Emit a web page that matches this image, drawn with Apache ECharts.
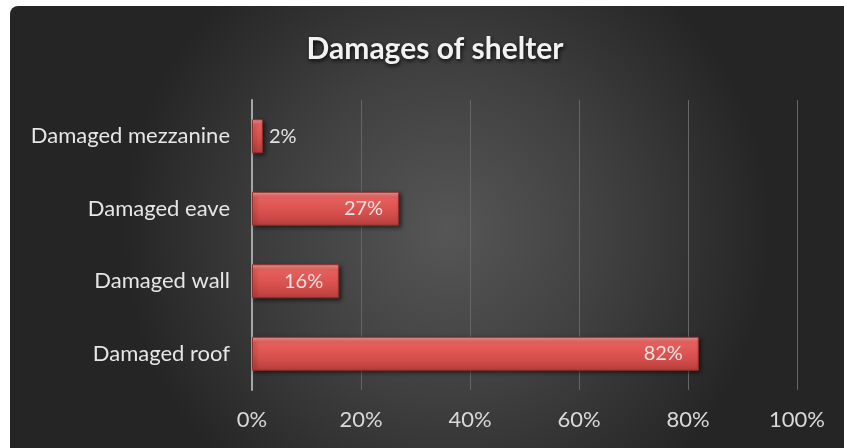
<!DOCTYPE html>
<html>
<head>
<meta charset="utf-8">
<style>
  html, body { margin: 0; padding: 0; background: #ffffff; }
  #chart { width: 844px; height: 448px; }
</style>
<script src="https://cdn.jsdelivr.net/npm/echarts@6/dist/echarts.min.js"></script>
</head>
<body>
<div id="chart"></div>
<script>
// Shelter damage categories, listed bottom to top
const categories = ['Damaged roof', 'Damaged wall', 'Damaged eave', 'Damaged mezzanine'];
// Share of shelters with each damage, in percent
const shares = [82, 16, 27, 2];
const xTicks = [0, 20, 40, 60, 80, 100];

const chart = echarts.init(document.getElementById('chart'), null, { renderer: 'canvas' });

// Bevelled red fill: bright top edge, darker base
const barFill = new echarts.graphic.LinearGradient(0, 0, 0, 1, [
  { offset: 0, color: '#f5a3a1' },
  { offset: 0.16, color: '#e8615e' },
  { offset: 0.6, color: '#d8504d' },
  { offset: 1, color: '#b83f3d' }
]);

const option = {
  backgroundColor: '#ffffff',
  graphic: [{
    type: 'rect',
    z: -10,
    silent: true,
    shape: { x: 10, y: 6, width: 840, height: 450, r: [8, 0, 0, 0] },
    style: {
      fill: new echarts.graphic.RadialGradient(0.52, 0.5, 0.72, [
        { offset: 0, color: '#565656' },
        { offset: 0.5, color: '#404040' },
        { offset: 1, color: '#252525' }
      ])
    }
  }],
  title: {
    text: 'Damages of shelter',
    left: 430,
    textAlign: 'center',
    top: 29,
    textStyle: {
      fontFamily: 'Lato',
      fontSize: 30,
      fontWeight: 'bold',
      color: '#f2f2f2',
      textShadowColor: 'rgba(0,0,0,0.85)',
      textShadowBlur: 4,
      textShadowOffsetX: 1,
      textShadowOffsetY: 2
    }
  },
  grid: { left: 252, right: 47, top: 100, bottom: 58, containLabel: false },
  xAxis: {
    type: 'value',
    min: 0,
    max: 100,
    interval: 20,
    axisLine: { show: false },
    axisTick: { show: false },
    splitLine: { lineStyle: { color: '#666666', width: 1 } },
    axisLabel: {
      margin: 19,
      color: '#d9d9d9',
      fontFamily: 'Lato',
      fontSize: 22,
      formatter: v => xTicks.includes(v) ? v + '%' : ''
    }
  },
  yAxis: {
    type: 'category',
    data: categories,
    axisLine: { show: true, lineStyle: { color: '#a6a6a6', width: 2 } },
    axisTick: { show: false },
    axisLabel: {
      margin: 22,
      color: '#e6e6e6',
      fontFamily: 'Lato',
      fontSize: 22
    }
  },
  series: [{
    type: 'bar',
    barWidth: 34,
    data: shares.map(v => ({
      value: v,
      label: v < 10
        ? { position: 'right', distance: 6 }
        : { position: 'insideRight', distance: 16 }
    })),
    itemStyle: {
      color: barFill,
      borderColor: '#8e2e2d',
      borderWidth: 1,
      shadowColor: 'rgba(0,0,0,0.55)',
      shadowBlur: 4,
      shadowOffsetX: 2,
      shadowOffsetY: 2
    },
    label: {
      show: true,
      color: '#e3e3e3',
      fontFamily: 'Lato',
      fontSize: 20,
      formatter: p => p.value + '%'
    }
  }]
};

chart.setOption(option);
</script>
</body>
</html>
